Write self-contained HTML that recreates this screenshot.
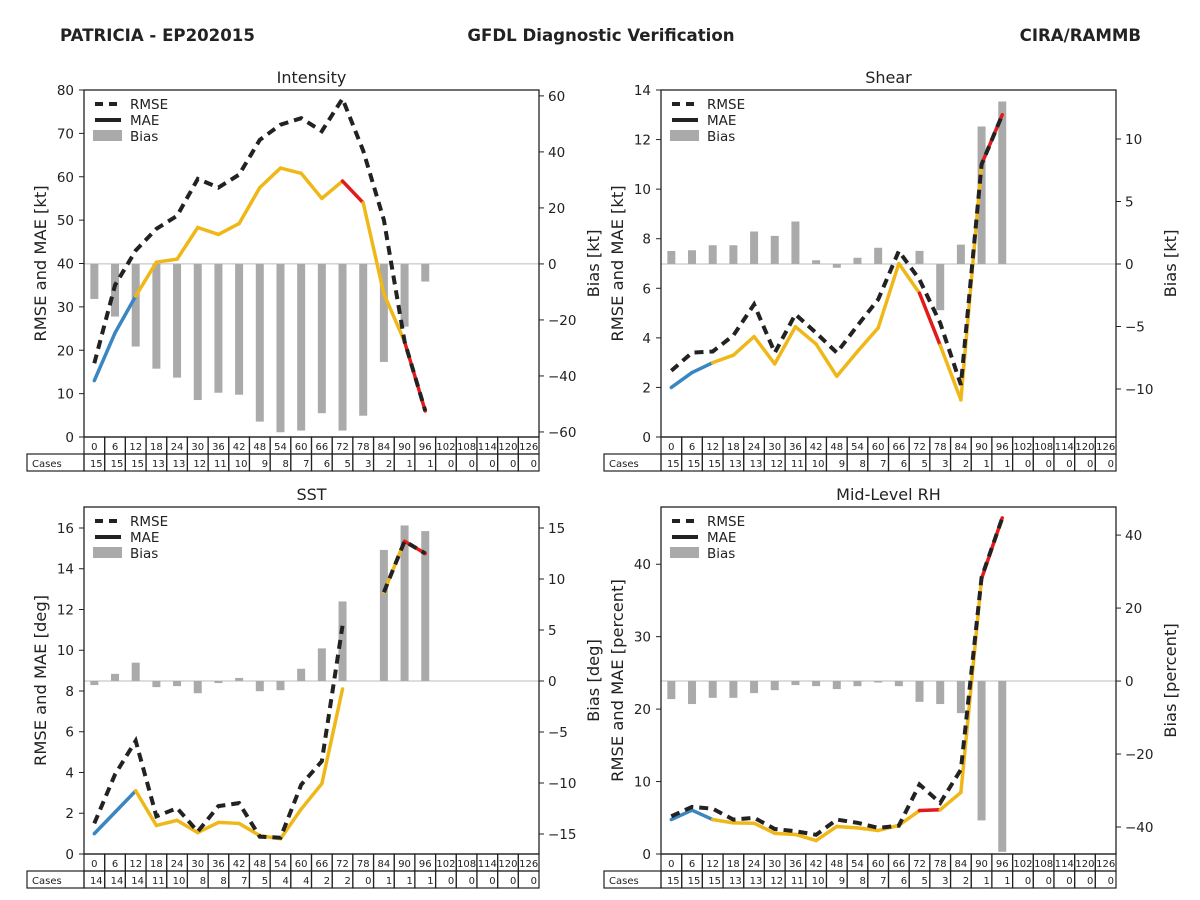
<!DOCTYPE html>
<html><head><meta charset="utf-8"><style>
body{margin:0;background:#fff;}
svg{display:block;font-family:"DejaVu Sans","Liberation Sans",sans-serif;}
</style></head><body>
<svg id="fig" width="1200" height="900" viewBox="0 0 1200 900">
<text x="60" y="41" font-size="16.6" font-weight="bold" fill="#222">PATRICIA - EP202015</text>
<text x="601" y="41" font-size="16.6" font-weight="bold" fill="#222" text-anchor="middle">GFDL Diagnostic Verification</text>
<text x="1141" y="41" font-size="16.6" font-weight="bold" fill="#222" text-anchor="end">CIRA/RAMMB</text>
</svg>
<script>
const leads=[0,6,12,18,24,30,36,42,48,54,60,66,72,78,84,90,96,102,108,114,120,126];
const segColors=['b','b','y','y','y','y','y','y','y','y','y','y','r','y','y','r'];
const intRmse=[17,35,43,48,51,59.5,57.5,60.5,68.5,72,73.5,70.5,78,66,50,22,6];
const intMae=[13,24,32.5,40.3,41,48.3,46.7,49.2,57.5,62,60.8,55,59,54,33,22,6];
const intBias=[-12.5,-18.8,-29.5,-37.4,-40.6,-48.6,-46,-46.7,-56.3,-60.1,-59.5,-53.3,-59.5,-54.2,-35,-22.4,-6.3];
const intCases=[15,15,15,13,13,12,11,10,9,8,7,6,5,3,2,1,1,0,0,0,0,0];
const shrRmse=[2.67,3.4,3.45,4.1,5.35,3.4,4.95,4.2,3.4,4.5,5.55,7.5,6.35,4.6,2.1,11,13];
const shrMae=[2.0,2.6,3.0,3.3,4.05,2.95,4.45,3.75,2.45,3.45,4.4,7.0,5.8,3.7,1.5,11,13];
const shrBias=[1.04,1.1,1.5,1.5,2.6,2.25,3.4,0.3,-0.3,0.5,1.3,0,1.05,-3.7,1.55,11,13];
const shrCases=[15,15,15,13,13,12,11,10,9,8,7,6,5,3,2,1,1,0,0,0,0,0];
const sstRmse=[1.5,3.9,5.55,1.85,2.25,1.1,2.35,2.5,0.85,0.8,3.4,4.55,11.2,null,12.85,15.35,14.75];
const sstMae=[1.0,2.05,3.1,1.4,1.65,1.05,1.55,1.5,0.9,0.75,2.2,3.45,8.1,null,12.85,15.35,14.75];
const sstBias=[-0.4,0.7,1.8,-0.6,-0.5,-1.2,-0.2,0.3,-1.0,-0.9,1.2,3.2,7.8,null,12.85,15.25,14.7];
const sstCases=[14,14,14,11,10,8,8,7,5,4,4,2,2,0,1,1,1,0,0,0,0,0];
const rhRmse=[5.2,6.5,6.25,4.75,5.0,3.45,3.15,2.65,4.75,4.3,3.6,3.9,9.6,7.05,11.65,38.2,46.4];
const rhMae=[4.75,6.05,4.75,4.3,4.25,2.85,2.7,1.85,3.8,3.6,3.25,3.95,6.0,6.1,8.5,38,46.4];
const rhBias=[-4.95,-6.3,-4.6,-4.6,-3.3,-2.5,-1.1,-1.4,-2.2,-1.4,-0.4,-1.4,-5.7,-6.3,-8.8,-38.2,-46.8];
const rhCases=[15,15,15,13,13,12,11,10,9,8,7,6,5,3,2,1,1,0,0,0,0,0];
const intLeftTicks=[0,10,20,30,40,50,60,70,80], intRightTicks=[-60,-40,-20,0,20,40,60];
const shrLeftTicks=[0,2,4,6,8,10,12,14], shrRightTicks=[-10,-5,0,5,10];
const sstLeftTicks=[0,2,4,6,8,10,12,14,16], sstRightTicks=[-15,-10,-5,0,5,10,15];
const rhLeftTicks=[0,10,20,30,40], rhRightTicks=[-40,-20,0,20,40];

const NS='http://www.w3.org/2000/svg';
const fig=document.getElementById('fig');
const COL={b:'#3a86c1',y:'#efb818',r:'#e31a1c'};
function mk(tag,attrs,parent,txt){const e=document.createElementNS(NS,tag);for(const k in attrs)e.setAttribute(k,attrs[k]);if(txt!==undefined)e.textContent=txt;(parent||fig).appendChild(e);return e;}

function panel(p){
  const g=mk('g',{});
  
  
  const W=455,H=347,x0=p.x,y0=p.y,cw=W/22;
  const xc=i=>x0+(i+0.5)*cw;
  const yL=v=>y0+H-v/p.lmax*H;
  const yR=v=>y0+H-(v-p.rmin)/(p.rmax-p.rmin)*H;
  const t=mk('text',{x:x0+W/2,y:y0-7,'font-size':16,'text-anchor':'middle',fill:'#222'},g,p.title);
  
  
  const z=mk('line',{x1:x0,x2:x0+W,y1:yR(0),y2:yR(0),stroke:'#bbb','stroke-width':1},g);
  
  
  p.bias.forEach((v,i)=>{ if(v===null) return;
    const a=yR(0),b=yR(v);
    const r=mk('rect',{x:xc(i)-4,y:Math.min(a,b),width:8,height:Math.max(Math.abs(b-a),0.5),fill:'#aaaaaa'},g);
    
    
  });
  for(let i=0;i<p.mae.length-1;i++){
    const a=p.mae[i],b=p.mae[i+1]; if(a===null||b===null) continue;
    const l=mk('line',{x1:xc(i),y1:yL(a),x2:xc(i+1),y2:yL(b),stroke:COL[segColors[i]],'stroke-width':3.5,'stroke-linecap':'round'},g);
    
    
  }
  let d='',pen=false;
  p.rmse.forEach((v,i)=>{ if(v===null){pen=false;return;} d+=(pen?'L':'M')+xc(i).toFixed(1)+' '+yL(v).toFixed(1)+' '; pen=true;});
  const rl=mk('path',{d:d,fill:'none',stroke:'#222','stroke-width':4,'stroke-dasharray':'9,6'},g);
  
  
  const fr=mk('rect',{x:x0,y:y0,width:W,height:H,fill:'none',stroke:'#222','stroke-width':1.3},g);
  
  
  p.lt.forEach(v=>{const y=yL(v);
    mk('line',{x1:x0-5,x2:x0,y1:y,y2:y,stroke:'#222'},g);
    const tx=mk('text',{x:x0-10,y:y+5,'font-size':13.5,'text-anchor':'end',fill:'#222'},g,String(v));
    
    
  });
  p.rt.forEach(v=>{const y=yR(v);
    mk('line',{x1:x0+W,x2:x0+W+5,y1:y,y2:y,stroke:'#222'},g);
    const tx=mk('text',{x:x0+W+9,y:y+5,'font-size':13.5,fill:'#222'},g,String(v).replace('-','\u2212'));
    
    
  });
  const ly=mk('text',{x:0,y:0,'font-size':16.3,'text-anchor':'middle',fill:'#222',transform:`translate(${x0-38},${y0+H/2}) rotate(-90)`},g,p.lyl);
  
  
  const ry=mk('text',{x:0,y:0,'font-size':16.3,'text-anchor':'middle',fill:'#222',transform:`translate(${x0+W+60},${y0+H/2}) rotate(-90)`},g,p.ryl);
  
  
  const lx=x0+11;
  const l1=mk('line',{x1:lx,x2:lx+26,y1:y0+14,y2:y0+14,stroke:'#222','stroke-width':4,'stroke-dasharray':'8,6'},g);
  
  
  mk('text',{x:lx+35,y:y0+19,'font-size':13.5,fill:'#222'},g,'RMSE');
  const l2=mk('line',{x1:lx,x2:lx+26,y1:y0+30,y2:y0+30,stroke:'#222','stroke-width':4},g);
  
  
  mk('text',{x:lx+35,y:y0+35,'font-size':13.5,fill:'#222'},g,'MAE');
  const l3=mk('rect',{x:lx-2,y:y0+40,width:29,height:11,fill:'#aaaaaa'},g);
  
  
  mk('text',{x:lx+35,y:y0+51,'font-size':13.5,fill:'#222'},g,'Bias');
  const ty=y0+H;
  const tb=mk('g',{},g);
  
  
  mk('rect',{x:x0-57,y:ty+17,width:57,height:17,fill:'none',stroke:'#222','stroke-width':1.2},tb);
  mk('text',{x:x0-52,y:ty+30,'font-size':10,fill:'#222'},tb,'Cases');
  leads.forEach((L,i)=>{const cx=x0+i*cw;
    mk('rect',{x:cx,y:ty,width:cw,height:17,fill:'none',stroke:'#222','stroke-width':1.2},tb);
    mk('rect',{x:cx,y:ty+17,width:cw,height:17,fill:'none',stroke:'#222','stroke-width':1.2},tb);
    mk('text',{x:cx+cw/2,y:ty+13,'font-size':10,'text-anchor':'middle',fill:'#222'},tb,String(L));
    mk('text',{x:cx+cw-2,y:ty+30,'font-size':10,'text-anchor':'end',fill:'#222'},tb,String(p.cases[i]));
  });
}
panel({name:'intensity',title:'Intensity',x:84,y:90,lmax:80,rmin:-61.8,rmax:62.1,rmse:intRmse,mae:intMae,bias:intBias,cases:intCases,lt:intLeftTicks,rt:intRightTicks,lyl:'RMSE and MAE [kt]',ryl:'Bias [kt]'});
panel({name:'shear',title:'Shear',x:661,y:90,lmax:14,rmin:-13.84,rmax:13.92,rmse:shrRmse,mae:shrMae,bias:shrBias,cases:shrCases,lt:shrLeftTicks,rt:shrRightTicks,lyl:'RMSE and MAE [kt]',ryl:'Bias [kt]'});
panel({name:'sst',title:'SST',x:84,y:507,lmax:17.03,rmin:-16.96,rmax:17.06,rmse:sstRmse,mae:sstMae,bias:sstBias,cases:sstCases,lt:sstLeftTicks,rt:sstRightTicks,lyl:'RMSE and MAE [deg]',ryl:'Bias [deg]'});
panel({name:'mid-level-rh',title:'Mid-Level RH',x:661,y:507,lmax:47.9,rmin:-47.4,rmax:47.7,rmse:rhRmse,mae:rhMae,bias:rhBias,cases:rhCases,lt:rhLeftTicks,rt:rhRightTicks,lyl:'RMSE and MAE [percent]',ryl:'Bias [percent]'});
</script>
</body></html>
